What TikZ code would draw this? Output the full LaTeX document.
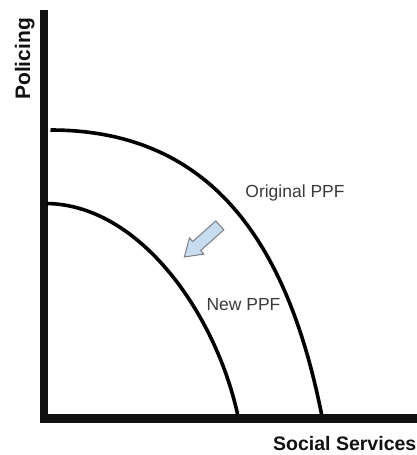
\documentclass[tikz,border=0pt]{standalone}
\usepackage{fontspec}
\setmainfont{Liberation Sans}
\definecolor{arrowfill}{HTML}{C8DCF0}
\definecolor{arrowline}{HTML}{7A7F85}
\definecolor{labelgray}{HTML}{3A3A3A}
\definecolor{axisblack}{HTML}{111111}
\begin{document}
\begin{tikzpicture}[x=1pt,y=-1pt,
  axisbar/.style={fill=axisblack,draw=none},
  ppf/.style={line width=3.6pt,black,line cap=butt},
  curvelabel/.style={text=labelgray,font=\fontsize{17.5}{17.5}\selectfont,anchor=base,inner sep=0pt},
  axislabel/.style={text=axisblack,font=\bfseries\fontsize{19.5}{19.5}\selectfont,inner sep=0pt},
  shiftarrow/.style={fill=arrowfill,draw=arrowline,line width=1pt,line join=miter}]
\useasboundingbox (0,0) rectangle (417,455);
% axes
\fill[axisbar] (39.7,9.5) rectangle (48.3,423);
\fill[axisbar] (39.7,414) rectangle (417,423);
% original PPF
\draw[ppf] (50.5,130) .. controls (215.5,130) and (288.5,249) .. (321.5,414);
% new PPF
\draw[ppf] (47,203.5) .. controls (140,205) and (215.5,314) .. (237.5,414);
% shift arrow
\begin{scope}[shift={(219.8,225.4)},rotate=-138.3]
\draw[shiftarrow] (0,-6) -- (31,-6) -- (31,-10.8) -- (47.5,0) -- (31,10.8) -- (31,6) -- (0,6) -- cycle;
\end{scope}
% labels
\node[curvelabel] (orig) at (295,197) {Original PPF};
\node[curvelabel] (new) at (243.5,310.5) {New PPF};
\node[axislabel,anchor=base east] (xlab) at (416.5,450) {Social Services};
\node[axislabel,anchor=base,rotate=90,font=\bfseries\fontsize{21}{21}\selectfont] (ylab) at (30,59) {Policing};
\end{tikzpicture}
\end{document}
